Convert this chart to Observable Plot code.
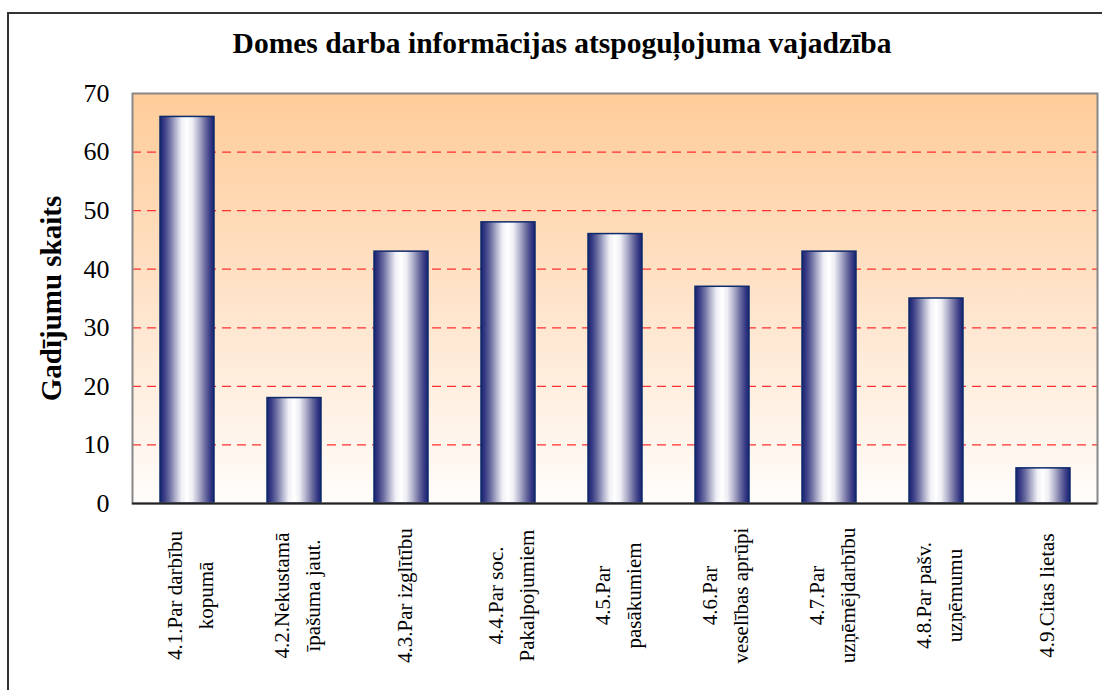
<!DOCTYPE html>
<html>
<head>
<meta charset="utf-8">
<script src="https://cdn.jsdelivr.net/npm/d3@7"></script>
<script src="https://cdn.jsdelivr.net/npm/@observablehq/plot@0.6"></script>
<style>
  html, body { margin: 0; padding: 0; background: #fff; }
  body { width: 1102px; height: 690px; position: relative; overflow: hidden; font-family: "Liberation Serif", "Times New Roman", serif; }
  #border { position: absolute; left: 7px; top: 12px; width: 1200px; height: 800px; border-left: 2px solid #333; border-top: 2px solid #333; box-sizing: border-box; }
  #title { position: absolute; left: 22px; width: 1080px; top: 28px; height: 30px; line-height: 30px; text-align: center; font-weight: bold; font-size: 29.5px; color: #000; white-space: nowrap; }
  #chart { position: absolute; left: 0; top: 75px; }
</style>
</head>
<body>
<div id="border"></div>
<div id="title">Domes darba informācijas atspoguļojuma vajadzība</div>
<div id="chart"></div>
<script>
const categories = [
  "4.1.Par darbību\nkopumā",
  "4.2.Nekustamā\nīpašuma jaut.",
  "4.3.Par izglītību",
  "4.4.Par soc.\nPakalpojumiem",
  "4.5.Par\npasākumiem",
  "4.6.Par\nveselības aprūpi",
  "4.7.Par\nuzņēmējdarbību",
  "4.8.Par pašv.\nuzņēmumu",
  "4.9.Citas lietas"
];
const counts = [66, 18, 43, 48, 46, 37, 43, 35, 6];
const yTicks = [0, 10, 20, 30, 40, 50, 60, 70];
const yTitle = "Gadījumu skaits";

const data = categories.map((c, i) => ({category: c, value: counts[i]}));
const gridValues = yTicks.filter(v => v > 0 && v < 70);
const serif = "'Liberation Serif', 'Times New Roman', serif";

const defs = () => {
  const g = d3.create("svg:defs");
  const bg = g.append("linearGradient").attr("id", "bgGrad").attr("x1", 0).attr("x2", 0).attr("y1", 0).attr("y2", 1);
  bg.append("stop").attr("offset", "0%").attr("stop-color", "#ffcc99");
  bg.append("stop").attr("offset", "55%").attr("stop-color", "#ffe6cf");
  bg.append("stop").attr("offset", "100%").attr("stop-color", "#fffdfb");
  const bar = g.append("linearGradient").attr("id", "barGrad").attr("x1", 0).attr("x2", 1).attr("y1", 0).attr("y2", 0);
  [["0%", "#18236f"], ["8%", "#3a3d86"], ["18%", "#6e70a2"], ["30%", "#b8b9d2"], ["40%", "#f0f0f6"],
   ["50%", "#ffffff"], ["60%", "#eeeef4"], ["72%", "#b0b0cc"], ["84%", "#6a6a9e"], ["93%", "#383b86"], ["100%", "#18236f"]]
    .forEach(([o, c]) => bar.append("stop").attr("offset", o).attr("stop-color", c));
  return g.node();
};

const chart = Plot.plot({
  width: 1102,
  height: 615,
  marginTop: 18,
  marginBottom: 187,
  marginLeft: 132,
  marginRight: 5,
  style: {fontFamily: serif, fontSize: "26px", background: "transparent", color: "#000"},
  x: {domain: categories, paddingInner: 0.5, paddingOuter: 0.25, axis: null},
  y: {domain: [0, 70]},
  marks: [
    defs,
    Plot.frame({fill: "url(#bgGrad)"}),
    Plot.ruleY(gridValues, {stroke: "#ff3030", strokeDasharray: "9,6", strokeWidth: 1.2}),
    Plot.barY(data, {x: "category", y: "value", fill: "url(#barGrad)", stroke: "#0d2a6b", strokeWidth: 1.5}),
    Plot.frame({stroke: "#888", strokeWidth: 2}),
    Plot.ruleY([0], {stroke: "#222", strokeWidth: 2}),
    Plot.axisY(yTicks, {tickSize: 0, tickPadding: 23, fontSize: 26, fontFamily: serif, label: null}),
    Plot.text(categories, {x: d => d, frameAnchor: "bottom", dy: 92, rotate: -90, textAnchor: "middle", lineAnchor: "middle", lineHeight: 1.5, fontSize: 21, fontFamily: serif, fill: "#000"}),
    Plot.text([yTitle], {frameAnchor: "left", dx: -81, rotate: -90, textAnchor: "middle", lineAnchor: "middle", fontWeight: "bold", fontSize: 29, fontFamily: serif, fill: "#000"})
  ]
});
document.getElementById("chart").appendChild(chart);
</script>
</body>
</html>
